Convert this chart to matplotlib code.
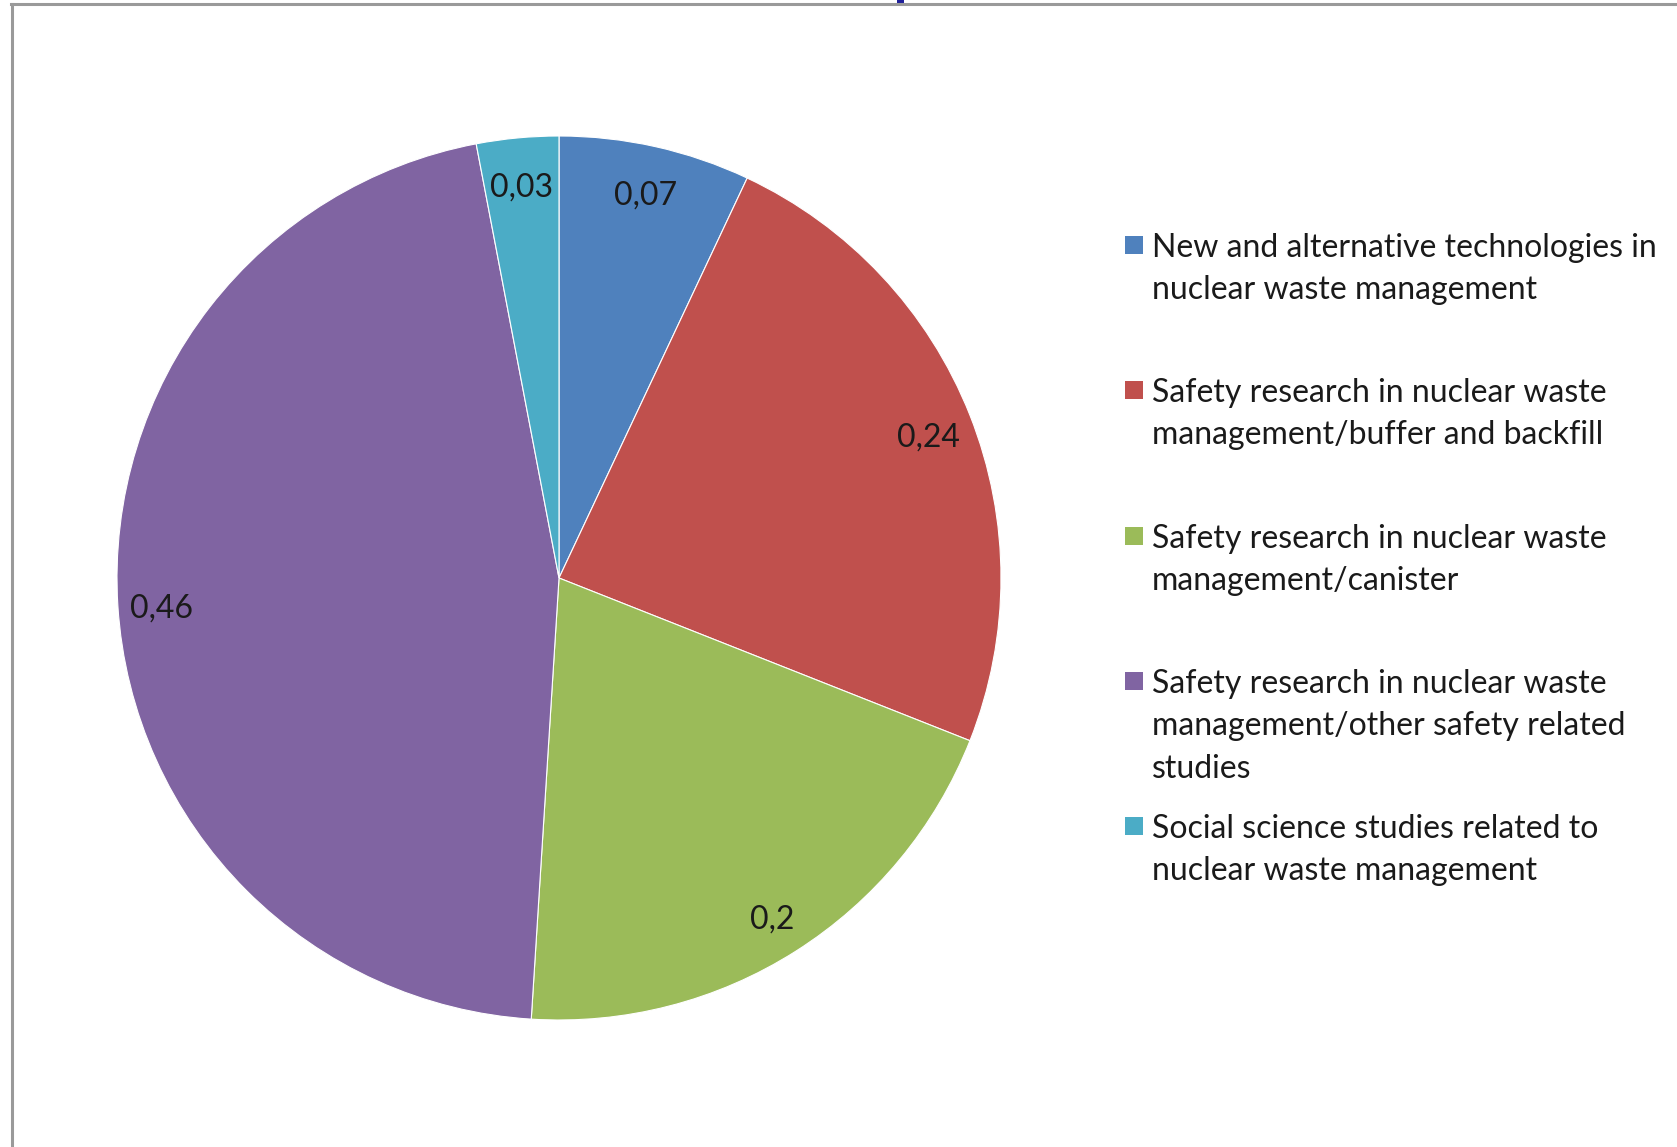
import numpy as np
import matplotlib.pyplot as plt
from matplotlib.patches import Rectangle
from matplotlib.lines import Line2D

# shares per research area
categories = [
    "New and alternative technologies in\nnuclear waste management",
    "Safety research in nuclear waste\nmanagement/buffer and backfill",
    "Safety research in nuclear waste\nmanagement/canister",
    "Safety research in nuclear waste\nmanagement/other safety related\nstudies",
    "Social science studies related to\nnuclear waste management",
]
values = [0.07, 0.24, 0.2, 0.46, 0.03]
value_labels = ["0,07", "0,24", "0,2", "0,46", "0,03"]
colors = ["#4F81BD", "#C0504D", "#9BBB59", "#8064A2", "#4BACC6"]

plt.rcParams['font.family'] = ['Lato', 'DejaVu Sans']

W, H = 1677, 1147
fig = plt.figure(figsize=(W / 100, H / 100), dpi=100)

cx, cy, r = 559, 578, 442
ax = fig.add_axes([(cx - r) / W, (H - cy - r) / H, 2 * r / W, 2 * r / H])
wedges, _ = ax.pie(values, colors=colors, startangle=90, counterclock=False,
                   radius=1.0, wedgeprops=dict(edgecolor="white", linewidth=0.8))
ax.set_xlim(-1, 1)
ax.set_ylim(-1, 1)
ax.set_aspect('equal')
ax.axis('off')

for w, lab in zip(wedges, value_labels):
    mid = np.deg2rad((w.theta1 + w.theta2) / 2)
    ax.text(0.9 * np.cos(mid), 0.9 * np.sin(mid) - 0.013, lab, ha='center', va='center',
            fontsize=23, color='#1a1a1a')

# legend laid out in fixed slots like the original
slot_y = [245, 390, 536, 681, 826]
sq = 18
for y, lab, c in zip(slot_y, categories, colors):
    fig.add_artist(Rectangle((1125 / W, (H - y - sq / 2) / H), sq / W, sq / H,
                             transform=fig.transFigure, facecolor=c, edgecolor='none'))
    fig.text(1152 / W, (H - y + 12) / H, lab, ha='left', va='top', fontsize=23,
             color='#1a1a1a', linespacing=1.52)

# frame lines of the screenshot
fig.add_artist(Line2D([11 / W, 1], [1 - 4 / H, 1 - 4 / H], color='#9a9a9a', lw=2.2,
                      transform=fig.transFigure))
fig.add_artist(Line2D([12 / W, 12 / W], [0, 1 - 4 / H], color='#9a9a9a', lw=2.2,
                      transform=fig.transFigure))
fig.add_artist(Rectangle((897 / W, 1 - 6 / H), 7 / W, 6 / H, transform=fig.transFigure,
                         facecolor='#1f1f9a', edgecolor='none'))

fig.savefig("out.png", dpi=100)
